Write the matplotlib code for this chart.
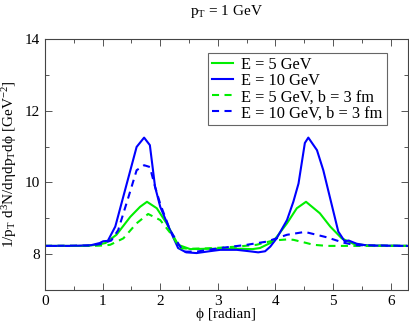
import matplotlib
matplotlib.use("Agg")
import matplotlib.pyplot as plt
import matplotlib.ticker as mticker

plt.rcParams["font.family"] = ["Liberation Serif", "DejaVu Serif"]
plt.rcParams["mathtext.fontset"] = "custom"
plt.rcParams["mathtext.rm"] = "Liberation Serif"
plt.rcParams["mathtext.it"] = "Liberation Serif"

# ── Data ────────────────────────────────────────────────────────────────────
phi_e10 = [0, 0.5, 0.8, 0.95, 1.01, 1.09, 1.22, 1.42, 1.59, 1.72, 1.82, 1.91,
           2.0, 2.17, 2.31, 2.45, 2.63, 2.85, 3.04, 3.33, 3.55, 3.7, 3.82,
           3.91, 4.02, 4.2, 4.31, 4.40, 4.51, 4.57, 4.72, 4.83, 5.09, 5.2,
           5.27, 5.41, 5.6, 6.283]
y_e10 = [8.23, 8.23, 8.25, 8.31, 8.36, 8.37, 8.77, 9.97, 10.99, 11.25, 11.04,
         9.88, 9.32, 8.67, 8.17, 8.05, 8.03, 8.08, 8.12, 8.12, 8.08, 8.05,
         8.08, 8.21, 8.44, 8.95, 9.46, 9.97, 11.1, 11.25, 10.9, 10.34, 8.63,
         8.36, 8.38, 8.29, 8.24, 8.23]

phi_e5 = [0, 0.7, 0.9, 1.05, 1.24, 1.48, 1.65, 1.77, 1.94, 2.11, 2.31, 2.52,
          2.8, 3.1, 3.4, 3.6, 3.73, 3.96, 4.2, 4.37, 4.53, 4.77, 4.95, 5.15,
          5.35, 5.6, 6.283]
y_e5 = [8.23, 8.23, 8.26, 8.31, 8.54, 9.04, 9.32, 9.46, 9.28, 8.86, 8.26,
        8.14, 8.15, 8.15, 8.15, 8.14, 8.17, 8.35, 8.86, 9.28, 9.46, 9.14,
        8.77, 8.44, 8.29, 8.24, 8.23]

phi_e5_b3 = [0, 0.8, 1.0, 1.13, 1.36, 1.59, 1.79, 2.0, 2.2, 2.34, 2.5, 2.8,
             3.04, 3.33, 3.67, 3.96, 4.2, 4.31, 4.54, 4.66, 4.9, 6.283]
y_e5_b3 = [8.23, 8.23, 8.24, 8.26, 8.44, 8.86, 9.12, 8.95, 8.54, 8.17, 8.15,
           8.16, 8.18, 8.21, 8.26, 8.38, 8.41, 8.40, 8.31, 8.26, 8.23, 8.23]

phi_e10_b3 = [0, 0.8, 0.95, 1.05, 1.15, 1.27, 1.45, 1.59, 1.72, 1.82, 1.91,
              2.0, 2.17, 2.4, 2.63, 3.04, 3.5, 3.85, 4.2, 4.51, 4.89, 5.18,
              5.4, 6.283]
y_e10_b3 = [8.23, 8.24, 8.28, 8.33, 8.38, 8.67, 9.6, 10.34, 10.48, 10.43,
            9.88, 9.4, 8.67, 8.07, 8.07, 8.17, 8.26, 8.35, 8.54, 8.62, 8.47,
            8.32, 8.25, 8.23]

GREEN = "#00ee00"
BLUE = "#0000ff"
DASH = (0, (3.4, 2.6))

# ── Figure ──────────────────────────────────────────────────────────────────
fig = plt.figure(figsize=(4.09, 3.23), dpi=100)
ax = fig.add_axes([45 / 409, 1 - 290 / 323, 363 / 409, 251 / 323])

ax.plot(phi_e5, y_e5, color=GREEN, lw=1.5, label="E = 5 GeV")
ax.plot(phi_e10, y_e10, color=BLUE, lw=1.5, label="E = 10 GeV")
ax.plot(phi_e5_b3, y_e5_b3, color=GREEN, lw=1.5, ls=DASH,
        label="E = 5 GeV, b = 3 fm")
ax.plot(phi_e10_b3, y_e10_b3, color=BLUE, lw=1.5, ls=DASH,
        label="E = 10 GeV, b = 3 fm")

ax.set_xlim(0, 6.3)
ax.set_ylim(7, 14)
ax.xaxis.set_major_locator(mticker.MultipleLocator(1))
ax.xaxis.set_minor_locator(mticker.MultipleLocator(0.5))
ax.yaxis.set_major_locator(mticker.MultipleLocator(2))
ax.yaxis.set_minor_locator(mticker.MultipleLocator(1))
ax.tick_params(which="both", direction="in", top=True, right=True,
               labelsize=11, width=0.7, color="#555555")
ax.tick_params(which="major", length=5)
ax.tick_params(which="minor", length=3)
for sp in ax.spines.values():
    sp.set_linewidth(0.8)
    sp.set_color("#444444")

ax.set_xlabel("ϕ [radian]", fontsize=11, labelpad=0)
ax.set_ylabel(r"1/p$_\mathrm{T}$ d$^3$N/dηdp$_\mathrm{T}$dϕ [GeV$^{-2}$]",
              fontsize=11, labelpad=4)
fig.text(226 / 409, 1 - 12 / 323, r"p$_\mathrm{T}$ = 1 GeV", fontsize=11,
         ha="center", va="center")

leg = ax.legend(loc="upper right", bbox_to_anchor=(0.942, 0.944),
                borderaxespad=0, fontsize=11.8, handlelength=1.3,
                handletextpad=0.5, labelspacing=0.0, borderpad=0.25,
                fancybox=False, framealpha=1, edgecolor="#666666")
leg.get_frame().set_linewidth(0.8)

fig.savefig("out.png", dpi=100)
